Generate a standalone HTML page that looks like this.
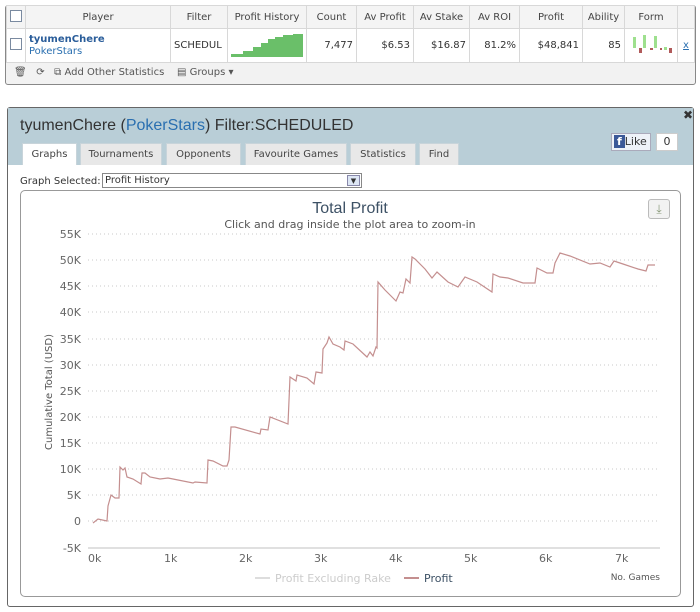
<!DOCTYPE html>
<html><head><meta charset="utf-8"><style>
*{box-sizing:border-box}
body{margin:0;width:700px;height:612px;background:#fff;font-family:"DejaVu Sans","Liberation Sans",sans-serif;font-size:10px;color:#333;position:relative;overflow:hidden}
.abs{position:absolute}
table{border-collapse:collapse;position:absolute;left:6px;top:5px;width:689px;font-size:10px}
td{border:1px solid #d8d8d8;padding:0 3px}
.hdr td{height:23px;background:#f4f4f4;text-align:center;color:#444}
.row td{height:32px;text-align:right}
.cb{width:12px;height:12px;border:1px solid #7a8aa0;background:#fff;display:inline-block}
.tab{position:absolute;top:143px;height:22px;background:#e8e8e8;border:1px solid #c8d4da;border-bottom:none;font-size:10px;text-align:center;line-height:22px;color:#444}
</style></head><body>
<div class="abs" style="left:5px;top:5px;width:691px;height:80px;border:1px solid #888;border-radius:3px;background:#f2f2f2"></div>
<table>
<tr class="hdr"><td style="width:17px"><span class="cb"></span></td><td style="width:145px">Player</td><td style="width:57px">Filter</td><td style="width:78px">Profit History</td><td style="width:50px">Count</td><td style="width:57px">Av Profit</td><td style="width:56px">Av Stake</td><td style="width:50px">Av ROI</td><td style="width:63px">Profit</td><td style="width:42px">Ability</td><td style="width:52px">Form</td><td></td></tr>
<tr class="row" style="background:#fff"><td style="text-align:center"><span class="cb"></span></td><td style="text-align:left;line-height:12px"><b style="color:#2a5d9a">tyumenChere</b><br><span style="color:#2a6fb0">PokerStars</span></td><td style="text-align:left;overflow:hidden;max-width:57px">SCHEDUL</td><td style="padding:0"><svg width="78" height="30"><path d="M3 28 L3 25 L15 25 L15 22 L25 22 L25 18 L33 18 L33 14 L40 14 L40 10 L47 10 L47 8 L55 8 L55 6 L65 6 L65 5 L75 5 L75 28Z" fill="#6abf69"/></svg></td><td>7,477</td><td>$6.53</td><td>$16.87</td><td>81.2%</td><td>$48,841</td><td>85</td><td style="padding:0"><svg width="52" height="30"><g fill="#9ee08e"><rect x="8" y="8" width="3" height="11"/><rect x="18" y="6" width="3" height="13"/><rect x="29" y="7" width="3" height="12"/><rect x="39" y="18" width="3" height="3"/></g><g fill="#b05a5a"><rect x="14" y="19" width="3" height="5"/><rect x="25" y="19" width="3" height="2"/><rect x="35" y="19" width="2" height="2"/><rect x="44" y="19" width="3" height="5"/></g></svg></td><td style="text-align:center;color:#2a6fb0;text-decoration:underline">x</td></tr>
</table>
<div class="abs" style="left:14px;top:67px;color:#555;font-size:10px">🗑&nbsp;&nbsp; ⟳ &nbsp;&nbsp;⧉ Add Other Statistics &nbsp;&nbsp; ▤ Groups ▾</div>

<div class="abs" style="left:7px;top:107px;width:687px;height:500px;border:1px solid #666;border-radius:3px;background:#fff"></div>
<div class="abs" style="left:8px;top:108px;width:685px;height:57px;background:#b9ced7"></div>
<div class="abs" style="left:683px;top:108px;font-size:12px;font-weight:bold">✖</div>
<div class="abs" style="left:20px;top:117px;font-size:16px;font-family:'Liberation Sans',sans-serif;color:#333">tyumenChere (<span style="color:#2a6fb0">PokerStars</span>) Filter:SCHEDULED</div>
<div class="abs" style="left:611px;top:133px;width:40px;height:18px;background:#eef2f8;border:1px solid #aab;font-size:11px;line-height:16px;color:#333"><span style="background:#3b5998;color:#fff;font-weight:bold;padding:0 3px;margin-left:2px">f</span>Like</div>
<div class="abs" style="left:656px;top:133px;width:22px;height:18px;background:#fff;border:1px solid #ccc;font-size:11px;text-align:center;line-height:16px">0</div>
<div class="tab" style="left:22px;width:55px;background:#fff">Graphs</div>
<div class="tab" style="left:80px;width:82px">Tournaments</div>
<div class="tab" style="left:166px;width:75px">Opponents</div>
<div class="tab" style="left:245px;width:102px">Favourite Games</div>
<div class="tab" style="left:350px;width:66px">Statistics</div>
<div class="tab" style="left:419px;width:40px">Find</div>
<div class="abs" style="left:20px;top:176px">Graph Selected:</div>
<div class="abs" style="left:102px;top:173px;width:260px;height:15px;border:1px solid #888;background:#fff;padding-left:2px;line-height:13px">Profit History<span style="position:absolute;right:1px;top:1px;width:13px;height:11px;background:#dde6f4;border:1px solid #88a;font-size:7px;text-align:center;line-height:10px">▼</span></div>
<div class="abs" style="left:20px;top:190px;width:661px;height:407px;border:1px solid #999;border-radius:5px"></div>
<div class="abs" style="left:648px;top:199px;width:22px;height:20px;border:1px solid #bbb;border-radius:3px;background:#f2f2f2;color:#8a9a7a;text-align:center;font-size:12px;line-height:18px">⤓</div>
<svg class="abs" style="left:0;top:0" width="700" height="612" font-family="DejaVu Sans, Liberation Sans, sans-serif">
<text x="350" y="213" text-anchor="middle" font-size="16" fill="#3d5165" font-family="Liberation Sans, sans-serif">Total Profit</text>
<text x="350" y="228" text-anchor="middle" font-size="11" fill="#555">Click and drag inside the plot area to zoom-in</text>
<g stroke="#c8c8c8" stroke-dasharray="1,3">
<line x1="88" x2="660" y1="234" y2="234"/><line x1="88" x2="660" y1="260" y2="260"/><line x1="88" x2="660" y1="286" y2="286"/><line x1="88" x2="660" y1="312" y2="312"/><line x1="88" x2="660" y1="339" y2="339"/><line x1="88" x2="660" y1="365" y2="365"/><line x1="88" x2="660" y1="391" y2="391"/><line x1="88" x2="660" y1="417" y2="417"/><line x1="88" x2="660" y1="443" y2="443"/><line x1="88" x2="660" y1="469" y2="469"/><line x1="88" x2="660" y1="495" y2="495"/><line x1="88" x2="660" y1="521" y2="521"/>
</g>
<line x1="88" x2="660" y1="548" y2="548" stroke="#c0c0c0"/>
<g font-size="11" fill="#666" text-anchor="end">
<text x="81" y="238">55K</text><text x="81" y="264">50K</text><text x="81" y="290">45K</text><text x="81" y="316">40K</text><text x="81" y="343">35K</text><text x="81" y="369">30K</text><text x="81" y="395">25K</text><text x="81" y="421">20K</text><text x="81" y="447">15K</text><text x="81" y="473">10K</text><text x="81" y="499">5K</text><text x="81" y="525">0</text><text x="81" y="552">-5K</text>
</g>
<g font-size="11" fill="#666">
<text x="88" y="562">0k</text><text x="164" y="562">1k</text><text x="239" y="562">2k</text><text x="314" y="562">3k</text><text x="389" y="562">4k</text><text x="464" y="562">5k</text><text x="539" y="562">6k</text><text x="615" y="562">7k</text>
</g>
<text x="52" y="392" transform="rotate(-90 52 392)" text-anchor="middle" font-size="10" fill="#555">Cumulative Total (USD)</text>
<polyline fill="none" stroke="#c48f8f" stroke-width="1.2" points="93,523 98,519 107,521 108,506 111,495 115,498 119,498 120,467 123,470 125,468 127,477 133,479 141,484 142,473 145,473 150,477 160,479 168,478 173,479 193,483 195,482 207,483 208,460 213,461 223,466 227,466 229,460 231,427 235,427 260,434 261,429 268,430 270,417 288,424 290,377 296,381 297,375 307,378 314,384 316,372 322,373 323,349 327,343 329,337 333,344 340,347 344,350 345,341 353,344 367,357 370,352 373,356 376,347 377,348 378,282 385,290 396,301 400,292 403,293 406,279 410,283 412,257 415,259 425,269 432,278 437,272 448,282 458,287 465,277 477,282 492,292 493,274 500,277 508,278 523,283 535,283 537,268 547,273 553,273 555,263 560,253 570,256 590,264 600,263 610,267 614,261 623,264 638,269 646,271 648,265 655,265"/>
<line x1="255" x2="270" y1="578" y2="578" stroke="#ddd" stroke-width="2"/>
<text x="275" y="582" font-size="11" fill="#ccc">Profit Excluding Rake</text>
<line x1="404" x2="419" y1="578" y2="578" stroke="#c48f8f" stroke-width="2"/>
<text x="424" y="582" font-size="11" fill="#3d5165">Profit</text>
<text x="660" y="580" text-anchor="end" font-size="9" fill="#555">No. Games</text>
</svg>
</body></html>
